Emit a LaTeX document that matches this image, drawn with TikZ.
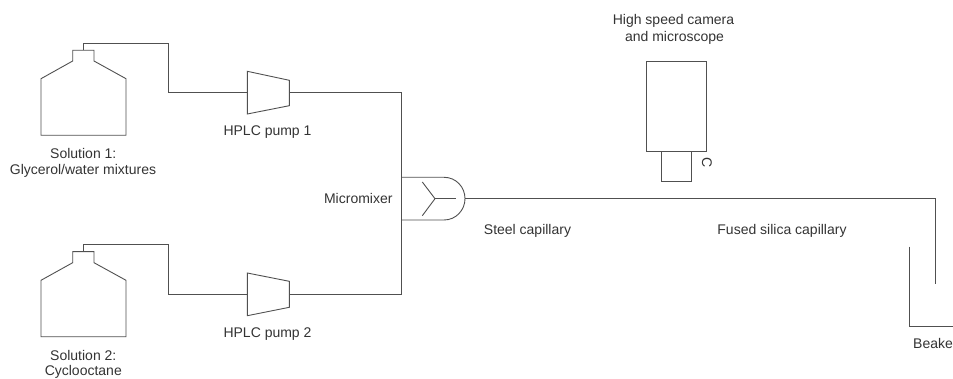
\documentclass[tikz,border=0pt]{standalone}
\usepackage{fontspec}
\setmainfont{Liberation Sans}
\definecolor{ln}{HTML}{505050}
\definecolor{tx}{HTML}{333333}
\tikzset{
  x=1pt,y=-1pt,
  part/.style={draw=ln,line width=0.9pt,line join=miter},
  pipe/.style={draw=ln,line width=0.9pt,line join=miter},
  lab/.style={text=tx,font=\fontsize{14}{16}\selectfont,align=center,inner sep=0pt,anchor=center},
  pt/.style={coordinate}
}
\begin{document}
\begin{tikzpicture}
\useasboundingbox (0,0) rectangle (953,379);
% bottle 1
\draw[part] (72.7,50.3) -- (94,50.3) -- (94,61) -- (126,78.7) -- (126,135.3) -- (41,135.3) -- (41,78.7) -- (72.7,61) -- cycle;
\node[pt] (b1) at (83.3,50.3) {};
\node[pt] (p1in) at (247.3,92.7) {};
\node[pt] (p1out) at (289.3,92.7) {};
\node[pt] (jt) at (401,92.7) {};
\draw[pipe] (b1) |- (168.3,43.3) |- (p1in);
\draw[part] (247.3,71.3) -- (289.3,80.3) -- (289.3,105.7) -- (247.3,114) -- cycle;
% bottle 2
\draw[part] (72.7,251.7) -- (94,251.7) -- (94,262.7) -- (126,280.3) -- (126,336.7) -- (41,336.7) -- (41,280.3) -- (72.7,262.7) -- cycle;
\node[pt] (b2) at (83.3,251.7) {};
\node[pt] (p2in) at (247.3,294) {};
\node[pt] (p2out) at (289.3,294) {};
\node[pt] (jb) at (401,294) {};
\draw[pipe] (b2) |- (168.3,244.3) |- (p2in);
\draw[part] (247.3,273) -- (289.3,281.3) -- (289.3,307.3) -- (247.3,315.7) -- cycle;
% feed lines
\draw[pipe] (p1out) -- (jt) -- (jb) -- (p2out);
% micromixer
\draw[part] (401,177.3) -- (444,177.3) .. controls (456,177.3) and (465,187) .. (465,198.7) .. controls (465,210) and (456,220) .. (444,220) -- (401,220);
\node[pt] (yc) at (435,198.7) {};
\node[pt] (ya) at (422.3,182) {};
\node[pt] (yb) at (422.3,215.7) {};
\node[pt] (ys) at (456,198.7) {};
\draw[pipe] (ya) -- (yc) -- (yb);
\draw[pipe] (yc) -- (ys);
% capillary
\node[pt] (mo) at (465,198.7) {};
\node[pt] (ce) at (935.7,283.7) {};
\draw[pipe] (mo) -| (ce);
% beaker
\node[pt] (bk1) at (909.3,246.7) {};
\node[pt] (bk2) at (953,326) {};
\draw[pipe] (bk1) |- (bk2);
% camera
\draw[part] (646.3,61) rectangle (706.3,151);
\draw[part] (661.3,151) rectangle (691.3,181.3);
% labels
\node[lab] at (83.3,153) {Solution 1:};
\node[lab] at (83,170.5) {Glycerol/water mixtures};
\node[lab] at (83.3,355) {Solution 2:};
\node[lab] at (83.3,372) {Cyclooctane};
\node[lab] at (267.5,131.7) {HPLC pump 1};
\node[lab] at (267.5,334) {HPLC pump 2};
\node[lab] at (358.3,198.7) {Micromixer};
\node[lab] at (527.5,230.5) {Steel capillary};
\node[lab] at (782,230.5) {Fused silica capillary};
\node[lab] at (673.5,21) {High speed camera};
\node[lab] at (674.5,37.5) {and microscope};
\node[lab,rotate=-90] at (707,163) {C};
\node[lab,anchor=west] at (913,343.5) {Beake};
\end{tikzpicture}
\end{document}
